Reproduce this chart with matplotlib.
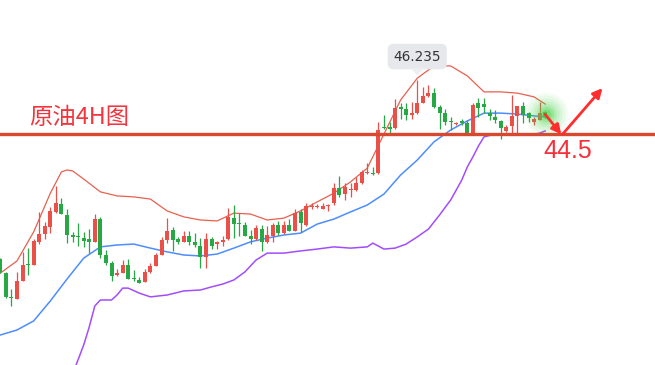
import matplotlib
matplotlib.use("Agg")
import matplotlib.pyplot as plt
import numpy as np
from matplotlib.patches import Polygon

# ---------------- data (crude oil 4H candles) ----------------
opens = [40.51, 40.06, 39.30, 39.23, 39.81, 40.35, 40.32, 41.06, 41.31, 41.54,
         42.02, 42.27, 41.92, 41.28, 41.25, 41.18, 41.15, 41.06, 41.79, 40.64,
         40.38, 40.00, 40.06, 40.32, 39.90, 39.84, 39.78, 40.10, 40.29, 40.64,
         41.12, 41.44, 41.15, 41.06, 41.25, 41.06, 40.93, 40.58, 41.15, 40.99,
         41.06, 41.15, 41.82, 41.66, 41.60, 41.25, 41.15, 41.47, 41.06, 41.25,
         41.60, 41.34, 41.60, 41.41, 42.02, 41.60, 42.18, 42.18, 42.11, 42.21,
         42.30, 42.78, 42.59, 42.72, 42.72, 42.94, 43.26, 43.26, 43.26, 44.74,
         44.74, 44.70, 45.38, 45.31, 45.12, 45.18, 45.50, 45.73, 45.82, 45.38,
         45.18, 44.93, 44.83, 44.90, 44.86, 44.54, 45.50, 45.47, 45.18, 45.06,
         44.93, 44.61, 44.77, 45.09, 45.41, 45.18, 44.90, 44.96, 45.22]
highs = [40.54, 40.10, 39.55, 40.10, 40.74, 40.86, 41.15, 42.02, 41.70, 42.18,
         42.85, 42.46, 42.11, 41.38, 41.66, 41.38, 41.47, 41.95, 41.86, 40.80,
         40.45, 40.19, 40.48, 40.51, 40.16, 39.94, 40.19, 40.38, 40.70, 41.22,
         41.82, 41.54, 41.22, 41.41, 41.41, 41.34, 41.18, 41.34, 41.22, 41.09,
         41.25, 42.14, 42.24, 41.98, 41.70, 41.44, 41.60, 41.60, 41.57, 41.66,
         41.73, 41.73, 41.79, 42.11, 42.11, 42.30, 42.30, 42.27, 42.30, 42.27,
         42.94, 43.17, 42.94, 42.94, 43.14, 43.36, 43.58, 43.46, 44.90, 45.12,
         44.90, 45.63, 45.50, 45.50, 45.54, 46.235, 46.02, 46.08, 45.98, 45.44,
         45.31, 45.06, 44.90, 44.99, 44.96, 45.50, 45.66, 45.66, 45.31, 45.28,
         44.96, 44.80, 45.76, 45.41, 45.54, 45.22, 45.06, 45.54, 45.25]
lows = [40.06, 39.26, 39.01, 39.23, 39.81, 40.00, 40.32, 40.99, 41.15, 41.34,
        41.98, 41.95, 41.02, 41.06, 40.93, 40.90, 40.70, 41.06, 40.54, 40.32,
        39.81, 39.97, 40.06, 39.87, 39.81, 39.74, 39.78, 40.06, 40.29, 40.64,
        41.02, 40.77, 40.99, 41.06, 40.96, 40.90, 40.22, 40.22, 40.83, 40.83,
        40.93, 41.12, 41.18, 41.25, 41.25, 40.99, 41.12, 40.77, 41.02, 41.06,
        41.28, 41.31, 41.41, 41.41, 41.38, 41.57, 42.11, 42.14, 42.11, 42.05,
        42.24, 42.50, 42.40, 42.50, 42.69, 42.91, 43.23, 43.20, 43.23, 44.67,
        44.54, 44.67, 44.99, 44.96, 44.99, 45.15, 45.50, 45.70, 45.34, 44.67,
        44.80, 44.64, 44.80, 44.80, 44.51, 44.51, 45.06, 45.18, 44.96, 44.86,
        44.35, 44.58, 44.54, 44.54, 44.86, 44.90, 44.80, 44.96, 45.02]
closes = [40.10, 39.30, 39.26, 39.81, 40.32, 40.32, 41.09, 41.31, 41.57, 42.05,
          42.30, 41.95, 41.28, 41.22, 41.22, 41.09, 41.06, 41.79, 40.64, 40.38,
          39.97, 40.06, 40.32, 39.87, 39.87, 39.74, 40.10, 40.29, 40.64, 41.12,
          41.41, 41.12, 41.06, 41.25, 41.06, 40.96, 40.58, 41.15, 40.93, 41.06,
          41.12, 41.86, 41.63, 41.63, 41.25, 41.15, 41.50, 41.06, 41.28, 41.60,
          41.34, 41.60, 41.41, 41.98, 41.66, 42.21, 42.21, 42.21, 42.21, 42.24,
          42.78, 42.56, 42.82, 42.75, 42.94, 43.30, 43.30, 43.23, 44.64, 44.70,
          44.67, 45.34, 45.31, 45.12, 45.18, 45.50, 45.73, 45.82, 45.38, 45.18,
          44.90, 44.90, 44.86, 44.88, 44.54, 45.44, 45.34, 45.38, 45.09, 44.96,
          44.70, 44.74, 45.09, 45.41, 45.12, 45.02, 44.99, 45.18, 45.06]

# Bollinger bands (candle index, price)
upper_idx = [0, 3, 6, 7, 9, 11, 12, 13, 15, 18, 21, 24, 27, 30, 33, 36, 39, 42, 45,
             48, 51, 54, 57, 60, 63, 66, 69, 72, 75, 78, 81, 84, 87, 90, 93, 96, 98]
upper_val = [40.06, 40.45, 41.38, 41.79, 42.62, 43.30, 43.36, 43.33, 43.07, 42.66,
             42.53, 42.50, 42.43, 42.05, 41.86, 41.76, 41.73, 41.98, 41.95, 41.76,
             41.82, 42.05, 42.34, 42.62, 42.98, 43.42, 44.51, 45.60, 46.30, 46.69,
             46.69, 46.37, 45.86, 45.86, 45.82, 45.70, 45.47]
mid_idx = [0, 3, 6, 9, 12, 15, 18, 21, 24, 27, 30, 33, 36, 39, 42, 45, 48, 51, 54,
           57, 60, 63, 66, 69, 72, 75, 78, 81, 84, 87, 90, 93, 96, 98]
mid_val = [38.08, 38.24, 38.53, 39.17, 39.87, 40.54, 40.90, 40.96, 40.99, 40.86,
           40.74, 40.64, 40.61, 40.67, 40.86, 41.06, 41.18, 41.28, 41.34, 41.63,
           41.79, 42.02, 42.24, 42.59, 43.20, 43.68, 44.26, 44.64, 44.93, 45.18,
           45.18, 45.15, 45.09, 45.06]
lower_idx = [13, 15, 16, 17, 18, 20, 21, 22, 23, 25, 27, 30, 33, 36, 38, 40, 42, 44,
             46, 48, 51, 54, 57, 60, 63, 66, 67, 69, 71, 73, 75, 77, 79, 81, 83, 84,
             85, 86, 87, 89, 92, 95, 97, 98]
lower_val = [36.83, 37.76, 38.34, 39.01, 39.20, 39.20, 39.36, 39.58, 39.58, 39.42,
             39.30, 39.36, 39.49, 39.52, 39.62, 39.71, 39.84, 40.10, 40.48, 40.70,
             40.70, 40.77, 40.83, 40.90, 40.86, 40.90, 41.02, 40.83, 40.86, 40.99,
             41.22, 41.47, 41.92, 42.40, 43.04, 43.46, 43.78, 44.13, 44.42, 44.51,
             44.48, 44.48, 44.54, 44.61]

support_level = 44.5
title_text = "原油4H图"
support_label = "44.5"

# ---------------- figure ----------------
UP = "#ea4f48"
DOWN = "#28a745"
fig = plt.figure(figsize=(6.55, 3.65), dpi=100)
ax = fig.add_axes([0, 0, 1, 1])
ax.axis("off")
ax.set_xlim(-0.054, 117.75)
ax.set_ylim(37.12, 48.8)

# bands
ax.plot(upper_idx, upper_val, color="#e8604e", lw=0.9, zorder=2)
ax.plot(mid_idx, mid_val, color="#4d8dff", lw=1.1, zorder=2)
ax.plot(lower_idx, lower_val, color="#a24dff", lw=1.1, zorder=2)

# candles
o = np.array(opens); h = np.array(highs); l = np.array(lows); c = np.array(closes)
idx = np.arange(len(o))
cols = np.where(c >= o, UP, DOWN)
ax.vlines(idx, l, h, colors=cols, lw=0.9, zorder=3)
bottom = np.minimum(o, c)
height = np.maximum(np.abs(c - o), 0.035)
ax.bar(idx, height, bottom=bottom, width=0.72, color=cols, lw=0, zorder=4)

# support line
ax.axhline(support_level, color="#d9472f", lw=2.4, zorder=5)

# title text
ax.text(29 / 655, 1 - 117 / 365, title_text, transform=ax.transAxes,
        fontsize=16.8, color="#f3343c", va="center", ha="left",
        family=["Noto Sans CJK SC", "DejaVu Sans"], zorder=6)

# high label
imax = int(np.argmax(h))
ax.annotate(f"{h[imax]:.3f}", xy=(imax, h[imax]), xytext=(0, 17),
            textcoords="offset points", ha="center", va="center",
            fontsize=9.8, color="#333333", zorder=7,
            bbox=dict(boxstyle="round,pad=0.42", fc="#e6e8eb", ec="none"))
fig.canvas.draw()
px, py = ax.transData.transform((imax, h[imax]))
tri = Polygon([[px - 7, py + 12], [px + 7, py + 12], [px, py + 5]],
              closed=True, transform=None, fc="#eceef0", ec="none", zorder=6)
fig.add_artist(tri)

# glow on last candle
last = len(o) - 1
gy = (o[last] + c[last]) / 2
for s, a in [(1000, 0.05), (760, 0.07), (540, 0.09), (360, 0.12), (220, 0.16),
             (120, 0.25), (50, 0.4)]:
    ax.scatter([last + 0.2], [gy], s=s, color="#48d64a", alpha=a, lw=0, zorder=8)

# arrows
RED_A = "#ff2d2d"
ax.annotate("", xy=(last + 2.9, support_level), xytext=(last, gy),
            arrowprops=dict(arrowstyle="-|>", color=RED_A, lw=2.0,
                            mutation_scale=14, shrinkA=0, shrinkB=0), zorder=9)
ax.annotate("", xy=(last + 10.3, 45.98), xytext=(last + 3.1, support_level),
            arrowprops=dict(arrowstyle="-|>", color=RED_A, lw=2.0,
                            mutation_scale=14, shrinkA=0, shrinkB=0), zorder=9)

# support label
ax.text(last - 0.4, support_level - 0.53, support_label, fontsize=18,
        color="#f5303a", va="center", ha="left", family="Liberation Sans", zorder=9)

fig.savefig("out.png", dpi=100, facecolor="white")
